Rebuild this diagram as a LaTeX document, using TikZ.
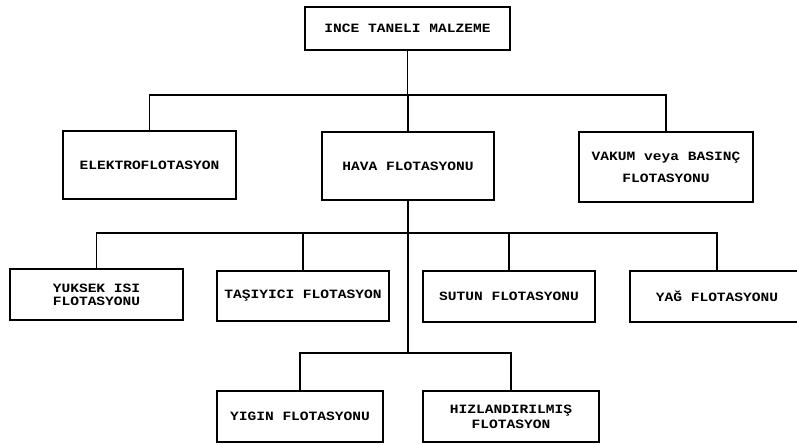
\documentclass[tikz,border=0pt]{standalone}
\usepackage{fontspec}
\newfontfamily\typefont[FakeStretch=1.15]{Liberation Mono}
\usetikzlibrary{positioning,calc}

\begin{document}
\begin{tikzpicture}[x=0.75pt,y=-0.75pt,
  font=\typefont\bfseries\fontsize{9.5}{11}\selectfont,
  box/.style 2 args={draw,line width=1.6pt,minimum width=#1*0.75pt,
    minimum height=#2*0.75pt,inner sep=0pt,align=center},
  link/.style={line width=0.9pt}]
  \clip (0,0) rectangle (797,445);
  \useasboundingbox (0,0) rectangle (797,445);
  % top level
  \node[box={205}{43},line width=2pt] (top) at (407.5,28.5) {INCE TANELI MALZEME};
  % second level
  \node[box={173}{68}] (elektro) at (149.5,165) {ELEKTROFLOTASYON};
  \node[box={172}{68}] (hava) at (408,166) {HAVA FLOTASYONU};
  \node[box={174}{70},font=\typefont\bfseries\fontsize{9.5}{16.5}\selectfont]
    (vakum) at (666,167) {VAKUM veya BASINÇ\\FLOTASYONU};
  % third level
  \node[box={173}{51},font=\typefont\bfseries\fontsize{9.5}{9.8}\selectfont]
    (yuksek) at (96.5,294.5) {YUKSEK ISI\\FLOTASYONU};
  \node[box={172}{50}] (tasiyici) at (303,296) {TAŞIYICI FLOTASYON};
  \node[box={172}{51}] (sutun) at (509,296.5) {SUTUN FLOTASYONU};
  \node[box={174}{51}] (yag) at (717,296.5) {YAĞ FLOTASYONU};
  % fourth level
  \node[box={166}{51}] (yigin) at (300,416.5) {YIGIN FLOTASYONU};
  \node[box={176}{51}] (hizli) at (511,416.5) {HIZLANDIRILMIŞ\\FLOTASYON};
  % bus lines
  \coordinate (bus1) at (0,95);
  \coordinate (bus2) at (0,233);
  \coordinate (bus3) at (0,353);
  \draw[link] (top.south) -- (top.south |- bus1);
  \draw[link] (elektro.north) |- (bus1 -| vakum.north) -- (vakum.north);
  \draw[link] (hava.north) -- (hava.north |- bus1);
  \draw[line width=1.4pt] (hava.south) -- (hava.south |- bus3);
  \draw[link] (yuksek.north) |- (bus2 -| yag.north) -- (yag.north);
  \draw[link] (tasiyici.north) -- (tasiyici.north |- bus2);
  \draw[link] (sutun.north) -- (sutun.north |- bus2);
  \draw[link] (yigin.north) |- (bus3 -| hizli.north) -- (hizli.north);
\end{tikzpicture}
\end{document}
